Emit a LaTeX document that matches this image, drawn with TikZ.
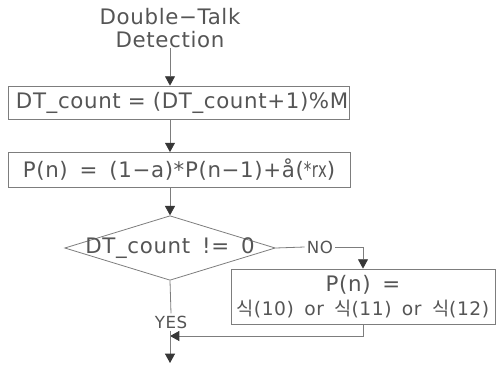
\documentclass[tikz,border=0pt]{standalone}
\usepackage{fontspec}
\setmainfont{DejaVu Sans}[LetterSpace=3, WordSpace=1.6]
\newfontfamily\kr{Noto Sans CJK KR}
\usetikzlibrary{shapes.geometric, arrows.meta, positioning}
\definecolor{txtgray}{RGB}{85,85,85}
\definecolor{linegray}{RGB}{125,125,125}
\definecolor{tipgray}{RGB}{55,55,55}
\tikzset{
    box/.style={draw=linegray, line width=0.6pt, text=txtgray, font=\fontsize{16}{17.5}\selectfont, inner sep=0pt, align=center},
    decision/.style={diamond, draw=linegray, line width=0.6pt, text=txtgray, font=\fontsize{16}{17.5}\selectfont, aspect=3.26, inner xsep=-10pt, inner ysep=0pt},
    tag/.style={text=txtgray, font=\fontsize{12.5}{14}\selectfont, inner sep=1.5pt},
    arrow/.style={-{Triangle[width=7.5pt,length=7pt,color=tipgray]}, line width=0.6pt, linegray},
    line/.style={line width=0.6pt, linegray}
}

\begin{document}
\begin{tikzpicture}[x=0.75pt, y=-0.75pt]
    \useasboundingbox (0,0) rectangle (496,364);
    \node [box, draw=none] (title) at (170,28) {Double−Talk\\Detection};
    \node [box, minimum height=24.75pt, text width=243.75pt, inner xsep=6pt, align=left] (cnt) at (178.5,102.5) {\mbox{DT\_count = (DT\_count+1)\%M}};
    \node [box, minimum width=256.5pt, minimum height=26.25pt] (pn) at (179,170) {P(n) = (1−a)*P(n−1)+\r{a}(\scalebox{0.7}[1]{*rx})};
    \node [decision] (check) at (170,248) {DT\_count != 0};
    \node [tag] (no) at (320,247) {NO};
    \node [box, minimum width=198pt, minimum height=41.25pt] (alt) at (363,296.5) {P(n) =\\{\fontsize{14}{17.5}\selectfont{\kr 식}(10) or {\kr 식}(11) or {\kr 식}(12)}};
    \node [tag] (yes) at (171,322) {YES};
    \coordinate (join) at (170,336);
    \coordinate (out) at (170,363);
    \draw [arrow] (title.south) -- (title.south |- cnt.north);
    \draw [arrow] (cnt.south -| check.north) -- (pn.north -| check.north);
    \draw [arrow] (pn.south -| check.north) -- (check.north);
    \draw [line] (check.east) -- (no.west);
    \draw [arrow] (no.east) -| (alt.north);
    \draw [line] (check.south) -- (yes.north);
    \draw [arrow] (alt.south) |- (join);
    \draw [arrow] (yes.south -| join) -- (out);
\end{tikzpicture}
\end{document}
